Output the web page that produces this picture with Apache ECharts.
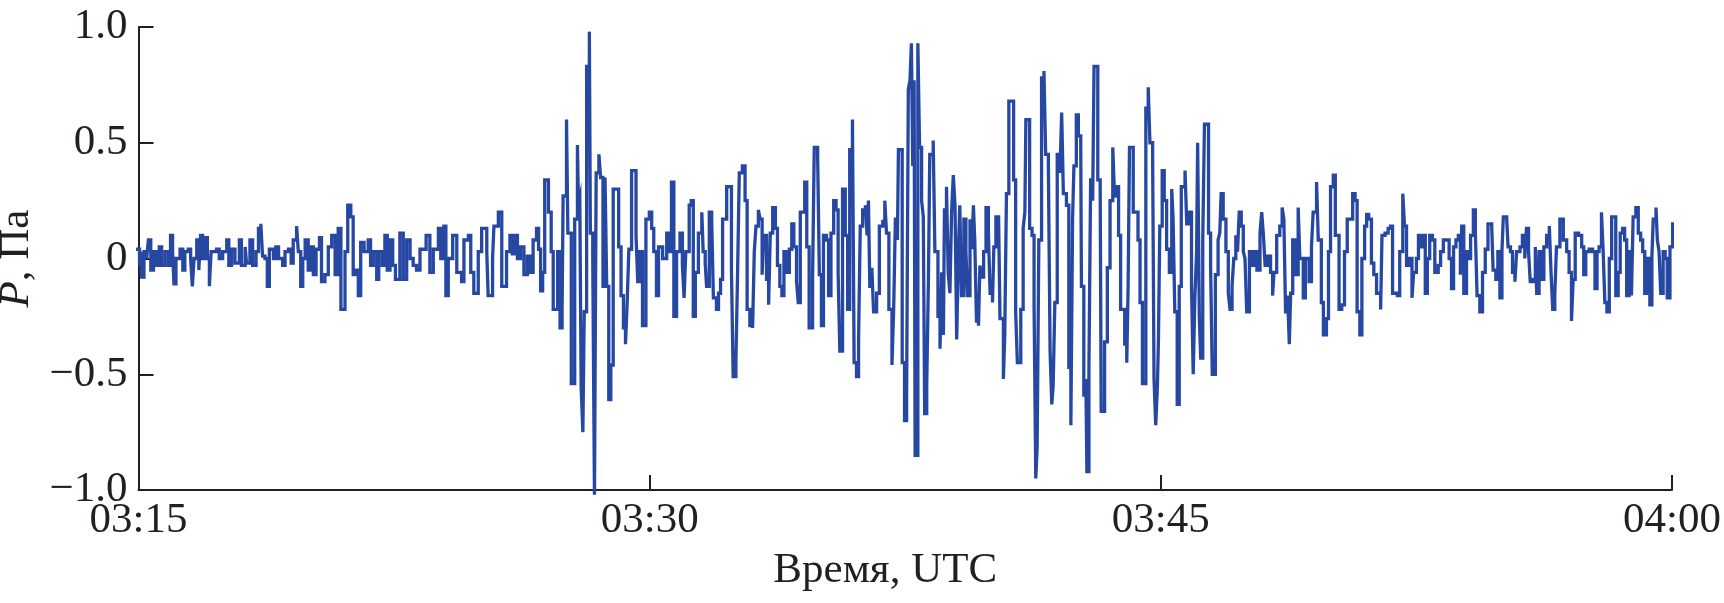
<!DOCTYPE html>
<html>
<head>
<meta charset="utf-8">
<script src="https://cdn.jsdelivr.net/npm/echarts@6/dist/echarts.min.js"></script>
<style>
html,body{margin:0;padding:0;background:#fff;}
#chart{width:1724px;height:603px;}
</style>
</head>
<body>
<div id="chart"></div>
<script>
// Time in minutes after 03:15 UTC
const minutes = [
-0.10,0.03,0.06,0.09,0.16,0.24,0.29,0.36,0.44,0.53,0.61,0.68,0.78,0.88,0.94,1.00,1.04,1.10,1.22,1.30,1.36,1.46,1.53,1.58,1.63,1.71,1.77,1.82,1.88,1.96,2.02,2.08,2.13,2.29,2.37,2.47,2.59,2.65,2.73,2.83,2.96,3.02,3.13,3.17,3.27,3.35,3.45,3.52,3.59,3.64,3.71,3.78,3.84,3.96,4.03,4.11,4.23,4.30,4.40,4.48,4.54,4.64,4.69,4.76,4.82,4.89,4.98,5.05,5.13,5.21,5.31,
5.37,5.47,5.57,5.67,5.77,5.86,5.94,6.06,6.14,6.23,6.30,6.38,6.45,6.52,6.62,6.74,6.81,6.89,6.99,7.05,7.15,7.23,7.30,7.38,7.46,7.54,7.67,7.77,7.87,7.97,8.06,8.16,8.26,8.44,8.55,8.65,8.80,8.87,8.96,9.02,9.09,9.22,9.34,9.48,9.55,9.68,9.75,9.84,9.97,10.07,10.22,10.26,10.39,10.43,10.56,10.66,10.80,10.90,
10.97,11.05,11.12,11.21,11.31,11.41,11.49,11.58,11.68,11.74,11.80,11.86,11.92,12.03,12.11,12.17,12.30,12.37,12.43,12.46,12.56,12.60,12.70,12.80,12.88,12.91,12.95,12.99,13.04,13.08,13.15,13.23,13.26,13.33,13.38,13.43,13.51,13.56,13.63,13.69,13.74,13.80,13.86,13.93,14.09,14.16,14.23,14.29,14.34,14.39,14.47,14.60,14.65,14.71,14.79,14.89,14.99,15.06,15.12,15.20,15.26,15.38,15.50,15.57,15.64,15.71,15.79,15.89,15.96,16.01,16.06,16.16,16.22,16.28,16.34,16.43,16.53,
16.57,16.63,16.67,16.75,16.82,16.87,16.96,17.02,17.08,17.14,17.26,17.40,17.45,17.53,17.58,17.63,17.72,17.80,17.86,17.94,18.02,18.07,18.12,18.19,18.24,18.30,18.35,18.43,18.49,18.54,18.61,18.69,18.75,18.82,18.88,18.94,19.02,19.10,19.17,19.23,19.31,19.36,19.42,19.55,19.61,19.68,19.78,19.83,19.93,19.98,20.04,20.10,20.19,20.25,20.32,20.40,20.47,20.53,20.58,20.66,20.74,20.81,20.87,20.95,21.00,21.07,21.13,21.18,21.25,21.33,21.38,21.42,21.46,21.52,21.57,21.66,21.74,21.84,21.90,21.95,22.02,22.11,
22.16,22.21,22.27,22.30,22.41,22.48,22.54,22.59,22.64,22.68,22.72,22.76,22.79,22.87,22.92,22.98,23.03,23.07,23.13,23.18,23.22,23.32,23.37,23.46,23.52,23.57,23.62,23.65,23.71,23.76,23.81,23.86,23.91,23.96,24.01,24.06,24.10,24.15,24.22,24.28,24.33,24.40,24.45,24.50,24.54,24.59,24.65,24.69,24.74,24.80,24.87,24.94,24.99,25.06,25.10,25.16,25.24,25.28,25.38,25.42,25.47,25.54,25.68,25.74,25.79,25.89,25.96,26.01,26.04,26.15,26.22,26.28,26.33,26.37,26.42,26.50,26.57,26.62,26.70,26.75,26.80,26.84,26.89,26.96,27.04,27.09,27.14,27.23,27.30,27.36,27.41,27.45,27.52,27.58,27.65,
27.67,27.74,27.80,27.83,27.89,27.94,28.00,28.04,28.15,28.22,28.25,28.35,28.43,28.51,28.59,28.64,28.70,28.76,28.82,28.94,29.00,29.04,29.08,29.19,29.33,29.39,29.46,29.56,29.63,29.68,29.76,29.80,29.85,29.90,29.93,29.97,30.04,30.10,30.17,30.25,30.32,30.36,30.41,30.48,30.54,30.60,30.71,30.76,30.83,30.90,30.95,31.00,31.05,31.08,31.13,31.17,31.23,31.28,31.40,31.46,31.51,31.60,31.68,31.73,31.77,31.83,31.91,31.98,32.03,32.09,32.14,32.20,32.25,32.30,32.36,32.42,32.47,32.52,32.60,32.67,32.75,32.82,32.91,32.96,33.01,33.06,33.13,33.22,33.28,
33.32,33.40,33.49,33.56,33.61,33.66,33.72,33.77,33.81,33.87,33.96,34.03,34.08,34.18,34.24,34.35,34.42,34.47,34.57,34.62,34.71,34.77,34.86,34.92,34.98,35.06,35.12,35.23,35.31,35.39,35.47,35.63,35.70,35.76,35.84,35.90,35.98,36.04,36.10,36.18,36.25,36.33,36.45,36.49,36.58,36.67,36.74,36.80,36.94,37.01,37.10,37.15,37.21,37.29,37.37,37.42,37.50,37.56,37.64,37.70,37.76,37.82,37.89,37.97,38.04,38.14,38.21,38.29,38.38,38.46,38.53,38.59,38.66,38.73,38.79,
38.83,38.89,38.97,39.03,39.09,39.17,39.23,39.28,39.36,39.44,39.52,39.60,39.71,39.75,39.83,39.89,39.95,40.01,40.05,40.15,40.19,40.26,40.32,40.39,40.44,40.54,40.61,40.68,40.73,40.79,40.84,40.93,40.99,41.03,41.10,41.17,41.24,41.32,41.40,41.45,41.50,41.56,41.61,41.71,41.81,41.91,41.98,42.05,42.10,42.16,42.26,42.35,42.41,42.47,42.57,42.67,42.74,42.80,42.86,42.93,42.98,43.03,43.09,43.16,43.23,43.29,43.35,43.42,43.48,43.55,43.61,43.67,43.74,43.81,43.86,43.94,44.01,44.08,44.14,44.20,44.27,44.35,44.41,44.45,44.53,44.57,44.62,44.67,44.74,44.80,44.86,44.94,45.02,45.09,45.13,45.18
];
// Pressure, Pa
const pressure = [
0.04,-0.03,0.03,-0.08,0.03,0.00,0.08,-0.05,0.03,-0.03,0.05,-0.03,0.03,-0.03,0.10,0.03,-0.11,0.00,0.04,-0.05,0.03,0.04,0.00,-0.12,0.00,0.08,-0.05,0.10,0.00,0.09,0.00,-0.12,0.03,0.04,0.00,0.03,0.08,-0.03,0.04,-0.02,0.08,-0.03,0.05,-0.02,0.08,-0.03,0.03,0.13,0.15,0.01,0.00,-0.12,0.04,0.00,0.05,0.00,-0.03,0.03,0.04,-0.02,0.08,0.14,0.03,-0.12,0.00,0.08,-0.05,0.05,-0.07,0.04,0.09,
-0.10,-0.07,0.05,0.10,-0.07,0.13,-0.22,0.03,0.23,0.18,-0.07,-0.05,-0.16,0.07,0.03,0.08,-0.03,0.03,-0.09,0.03,-0.03,0.10,-0.05,0.08,-0.03,-0.09,0.11,-0.09,0.08,0.00,-0.03,-0.05,0.04,0.10,-0.06,0.04,0.13,0.00,0.14,-0.16,0.00,0.10,-0.06,-0.10,0.08,0.10,-0.06,-0.15,0.03,0.13,0.03,-0.16,0.00,0.14,0.20,-0.12,0.03,0.10,
0.02,0.10,0.00,0.05,-0.07,0.01,-0.06,0.08,0.13,0.04,-0.14,-0.06,0.34,0.20,0.03,-0.22,0.03,-0.30,-0.23,0.27,0.60,0.11,-0.54,0.17,0.49,0.23,0.26,-0.56,-0.75,-0.23,0.83,0.98,0.11,0.00,-1.02,0.37,0.45,0.35,-0.12,0.35,-0.12,-0.61,-0.46,0.30,0.05,-0.16,-0.30,-0.37,-0.19,0.04,0.38,0.10,-0.10,0.03,-0.29,0.17,0.20,0.13,0.03,-0.16,0.05,0.00,0.11,0.03,0.33,-0.25,0.03,0.11,-0.03,-0.17,0.03,0.23,0.25,-0.25,-0.06,0.11,0.20,
0.03,-0.02,-0.12,0.20,0.17,-0.17,-0.22,-0.15,-0.09,0.17,0.31,-0.05,-0.51,-0.45,-0.06,0.37,0.40,0.25,-0.22,-0.29,-0.30,0.03,0.14,0.21,0.17,-0.07,0.10,-0.09,-0.20,0.11,0.22,0.13,-0.03,-0.12,-0.16,0.03,-0.06,0.04,0.15,0.05,-0.10,-0.19,0.20,0.33,0.05,-0.30,-0.09,0.48,0.43,-0.07,-0.29,0.10,0.08,-0.16,0.11,0.25,0.21,-0.06,-0.40,0.30,0.10,-0.22,0.47,0.60,-0.45,-0.51,-0.35,0.14,0.21,0.23,0.10,0.25,-0.12,-0.04,-0.23,-0.15,0.14,0.16,0.25,0.11,-0.22,-0.46,
-0.22,0.17,0.08,0.47,-0.45,-0.70,-0.59,0.73,0.77,0.93,0.40,0.77,-0.85,0.93,0.48,0.25,0.18,-0.67,-0.55,-0.09,0.45,0.51,0.03,-0.25,-0.39,-0.06,-0.33,0.21,0.31,-0.06,-0.15,0.20,0.36,0.23,-0.35,0.03,0.23,-0.16,0.17,0.03,-0.16,0.17,0.04,0.23,0.08,-0.27,-0.29,-0.03,-0.08,0.03,0.22,0.11,-0.15,-0.19,0.05,0.18,0.17,-0.26,-0.52,-0.33,0.28,0.68,0.34,-0.23,-0.45,-0.22,0.13,0.20,0.60,0.13,0.10,-0.20,-0.95,-0.82,0.08,0.78,0.81,0.45,0.40,-0.40,-0.63,-0.55,-0.19,0.45,0.37,0.63,0.28,0.23,-0.47,-0.72,0.17,0.40,0.62,0.53,0.48,
-0.12,-0.59,-0.52,-0.92,-0.47,0.34,0.25,0.83,0.34,0.31,-0.66,-0.36,-0.04,0.25,0.48,0.27,0.31,0.10,-0.22,-0.37,-0.45,-0.12,0.48,0.20,0.08,-0.19,-0.54,0.65,0.74,0.50,0.43,-0.52,-0.72,-0.55,-0.35,0.14,0.38,0.25,0.04,-0.06,0.30,0.17,-0.23,-0.63,-0.12,0.31,0.38,0.15,0.20,-0.12,-0.50,-0.16,0.03,0.50,-0.26,-0.43,0.08,0.58,0.11,-0.03,-0.50,-0.07,0.08,0.11,0.28,0.17,0.03,-0.15,-0.22,-0.12,0.00,0.10,0.03,0.20,0.14,0.03,0.00,-0.23,0.03,-0.03,0.03,-0.05,0.11,0.20,0.10,-0.03,0.01,-0.06,-0.16,
-0.06,0.10,0.14,0.22,0.17,-0.23,-0.16,-0.37,-0.15,0.08,-0.07,0.22,0.00,-0.17,0.00,-0.10,0.05,0.20,0.33,0.08,-0.19,-0.33,-0.26,0.03,0.31,0.36,0.10,-0.22,-0.20,0.03,0.17,0.28,0.25,-0.23,-0.33,0.00,0.14,0.19,0.17,-0.02,-0.07,-0.15,-0.22,0.10,0.11,0.13,0.14,-0.15,-0.16,0.03,0.28,0.14,-0.03,0.00,-0.17,-0.06,0.00,0.10,0.05,0.10,-0.15,0.00,0.10,0.08,-0.06,-0.03,0.03,0.08,0.08,0.00,-0.13,0.05,0.08,0.10,-0.07,
0.14,-0.15,0.03,0.00,0.10,0.21,0.11,-0.16,-0.23,-0.06,0.04,0.15,0.14,-0.05,-0.09,0.03,-0.17,0.03,0.18,0.17,0.05,0.03,-0.06,-0.10,0.03,0.05,0.10,0.00,0.13,0.03,-0.10,-0.09,0.05,-0.15,0.03,-0.09,0.05,0.10,0.14,-0.06,-0.22,-0.16,0.05,0.17,0.08,0.03,-0.06,-0.27,-0.09,0.11,0.10,0.05,-0.07,0.03,0.04,0.03,-0.13,0.03,0.05,0.20,0.03,-0.19,-0.23,0.00,0.18,0.18,-0.16,-0.06,0.11,0.13,0.08,-0.16,0.03,-0.16,0.18,0.22,0.11,0.08,0.03,-0.15,0.00,-0.20,0.01,0.17,0.22,0.08,0.03,-0.15,0.03,0.00,-0.17,0.05,0.15,0.14,0.03,-0.17
];
const xTicks = [0, 15, 30, 45];
const xTickLabels = ['03:15', '03:30', '03:45', '04:00'];
const yTicks = [-1.0, -0.5, 0, 0.5, 1.0];
const yTickLabels = ['\u22121.0', '\u22120.5', '0', '0.5', '1.0'];

const FONT = '"Liberation Serif", "Times New Roman", serif';
const TXT = '#231f20';
const FS = 43;

const chart = echarts.init(document.getElementById('chart'), null, {renderer: 'canvas'});
const n = Math.min(minutes.length, pressure.length);
const seriesData = [];
for (let i = 0; i < n; i++) seriesData.push([minutes[i], pressure[i]]);

chart.setOption({
  animation: false,
  backgroundColor: '#ffffff',
  grid: {left: 138.5, right: 52, top: 27, bottom: 113, containLabel: false, outerBoundsMode: 'none'},
  xAxis: {
    type: 'value',
    min: xTicks[0], max: xTicks[xTicks.length - 1], interval: 15,
    name: 'Время, UTC',
    nameLocation: 'middle',
    nameGap: 59,
    nameTextStyle: {fontFamily: FONT, fontSize: FS, color: TXT, padding: [0, 40, 0, 0]},
    axisLine: {show: true, onZero: false, lineStyle: {color: TXT, width: 2}},
    axisTick: {show: true, inside: true, length: 15, lineStyle: {color: TXT, width: 2}},
    axisLabel: {
      fontFamily: FONT, fontSize: FS, color: TXT, margin: 9,
      formatter: function (v) { const i = xTicks.indexOf(v); return i >= 0 ? xTickLabels[i] : ''; }
    },
    splitLine: {show: false}
  },
  yAxis: {
    type: 'value',
    min: yTicks[0], max: yTicks[yTicks.length - 1], interval: 0.5,
    name: '{i|P}, Па',
    nameLocation: 'middle',
    nameGap: 83,
    nameRotate: 90,
    nameTextStyle: {
      fontFamily: FONT, fontSize: FS, color: TXT,
      rich: {i: {fontFamily: FONT, fontSize: FS, fontStyle: 'italic', color: TXT}}
    },
    axisLine: {show: true, onZero: false, lineStyle: {color: TXT, width: 2}},
    axisTick: {show: true, inside: true, length: 15, lineStyle: {color: TXT, width: 2}},
    axisLabel: {
      fontFamily: FONT, fontSize: FS, color: TXT, margin: 11,
      formatter: function (v) {
        for (let i = 0; i < yTicks.length; i++) if (Math.abs(yTicks[i] - v) < 1e-9) return yTickLabels[i];
        return '';
      }
    },
    splitLine: {show: false}
  },
  series: [{
    type: 'line',
    data: seriesData,
    step: 'end',
    showSymbol: false,
    clip: false,
    sampling: null,
    lineStyle: {color: '#2648a3', width: 3.3, join: 'miter'},
    itemStyle: {color: '#2648a3'},
    silent: true
  }]
});
</script>
</body>
</html>
